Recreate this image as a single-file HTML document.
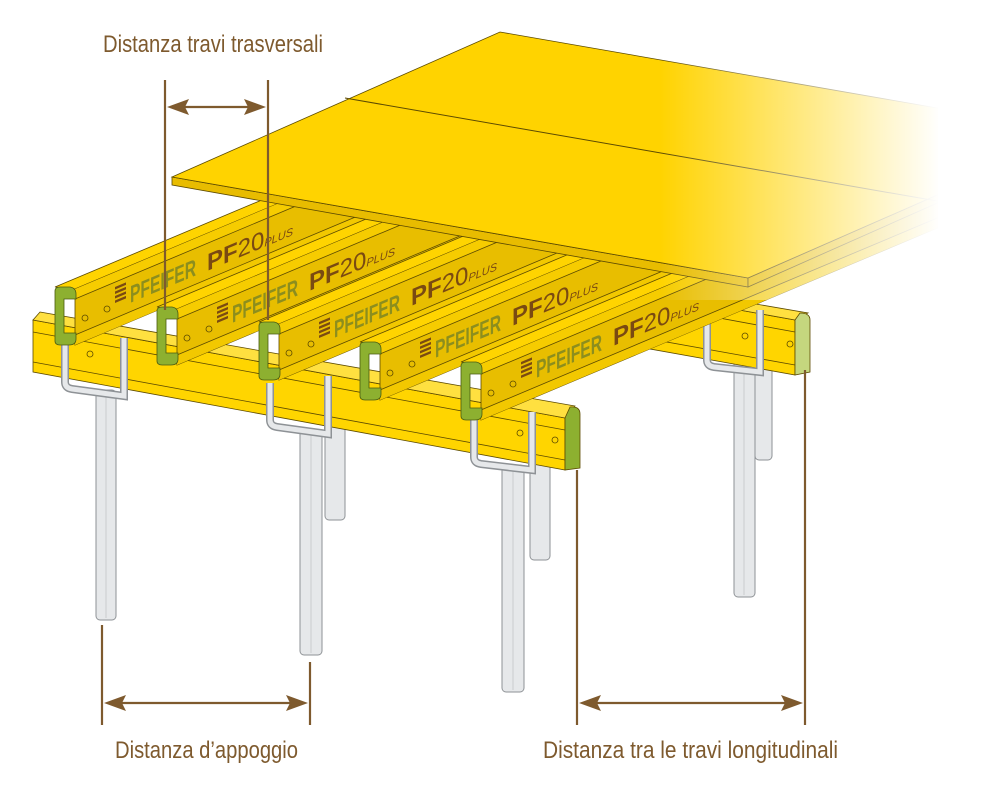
<!DOCTYPE html>
<html><head><meta charset="utf-8"><style>
html,body{margin:0;padding:0;background:#fff;}
svg{display:block;}
.dim{stroke:#7E5A2E;stroke-width:2.2;fill:none;}
.lbl{font-family:"Liberation Sans Narrow","Liberation Sans",sans-serif;fill:#7E5A2E;font-size:24px;}
.pf{font-family:"Liberation Sans Narrow","Liberation Sans",sans-serif;font-weight:bold;font-size:24px;fill:#8C8E1E;}
.pf2{font-family:"Liberation Sans Narrow","Liberation Sans",sans-serif;font-size:24px;fill:#7A4A12;}
.prop{fill:#E6E8EA;stroke:#8E9296;stroke-width:1;}
.ol{stroke:#5C4A00;stroke-width:0.8;}
</style></head><body>
<svg width="1000" height="800" viewBox="0 0 1000 800" xmlns="http://www.w3.org/2000/svg">
<defs>
<linearGradient id="fade" x1="0" x2="1" y1="0" y2="0">
<stop offset="0" stop-color="#fff" stop-opacity="0"/>
<stop offset="1" stop-color="#fff" stop-opacity="1"/>
</linearGradient>
<g id="beamgeo">
<polygon class="ol" points="0,0 20,2 500,-200 480,-202" fill="#FFD400"/>
<polygon class="ol" points="20,2 500,-200 500,-144 20,58" fill="#E8BE00"/>
<polygon points="20,2 500,-200 500,-190 20,12" fill="#F6CC00"/>
<polygon points="20,48 500,-154 500,-144 20,58" fill="#F2C800"/>
<line x1="20" y1="12" x2="500" y2="-190" class="ol"/><line x1="20" y1="48" x2="500" y2="-154" class="ol"/>
<circle cx="30" cy="31" r="3" fill="none" class="ol"/><circle cx="52" cy="22" r="3" fill="none" class="ol"/>
<g transform="matrix(1,-0.42,0,1,60,16)" fill="#7A4A12"><rect x="0" y="-16" width="11" height="2.5"/><rect x="0" y="-11.5" width="11" height="2.5"/><rect x="0" y="-7" width="11" height="2.5"/><rect x="0" y="-2.5" width="11" height="2.5"/></g>
</g>
<g id="beamcap">
<path d="M0,4 Q0,0 5,0 H15 Q21,1 21,7 V12 H9 V46 H21 V52 Q21,58 14,58 H5 Q0,58 0,54 Z" fill="#8DB030" stroke="#4A5A10" stroke-width="0.8"/>
</g>
</defs>

<!-- props -->
<rect class="prop" x="325" y="420" width="20" height="100" rx="4"/>
<rect class="prop" x="530" y="450" width="20" height="110" rx="4"/>
<rect class="prop" x="755" y="360" width="17" height="100" rx="4"/>
<rect class="prop" x="734" y="360" width="21" height="237" rx="4"/>
<rect class="prop" x="96" y="390" width="20" height="230" rx="4"/>
<rect class="prop" x="300" y="430" width="22" height="225" rx="4"/>
<rect class="prop" x="502" y="465" width="22" height="227" rx="4"/>
<line x1="106" y1="395" x2="106" y2="618" stroke="#C9CCCF"/>
<line x1="311" y1="435" x2="311" y2="653" stroke="#C9CCCF"/>
<line x1="513" y1="470" x2="513" y2="690" stroke="#C9CCCF"/>
<line x1="744" y1="365" x2="744" y2="595" stroke="#C9CCCF"/>

<!-- back long beam -->
<polygon class="ol" points="600,285 795,320 795,375 600,340" fill="#FFD500"/>
<polygon class="ol" points="605,278 808,313 795,320 600,285" fill="#FFE040"/>
<line x1="600" y1="296" x2="795" y2="332" class="ol"/>
<line x1="600" y1="330" x2="795" y2="365" class="ol"/>
<path d="M795,320 L800,313 Q810,313 810,320 V372 L795,375 Z" fill="#C5D77E" stroke="#5C4A00" stroke-width="0.8"/>
<circle cx="745" cy="336" r="3" fill="none" class="ol"/>
<circle cx="790" cy="344" r="3" fill="none" class="ol"/>
<path d="M707,312 V360 Q707,366 714,367 L760,372 V310" fill="none" stroke="#8E9296" stroke-width="8"/>
<path d="M707,312 V360 Q707,366 714,367 L760,372 V310" fill="none" stroke="#E6E8EA" stroke-width="5"/>

<!-- front long beam -->
<polygon class="ol" points="33,320 565,418 565,470 33,372" fill="#FFD500"/>
<polygon class="ol" points="40,312 575,406 565,418 33,320" fill="#FFE040"/>
<line x1="33" y1="332" x2="565" y2="430" class="ol"/>
<line x1="33" y1="362" x2="565" y2="460" class="ol"/>
<path d="M565,418 L570,407 Q580,406 580,414 V468 L565,470 Z" fill="#8DB030" stroke="#5C4A00" stroke-width="0.8"/>
<circle cx="90" cy="354" r="3" fill="none" class="ol"/>
<circle cx="520" cy="433" r="3" fill="none" class="ol"/>
<circle cx="555" cy="440" r="3" fill="none" class="ol"/>

<g fill="none">
<path d="M65,345 V382 Q65,388 72,389 L124,396 V338" stroke="#8E9296" stroke-width="8"/>
<path d="M65,345 V382 Q65,388 72,389 L124,396 V338" stroke="#E6E8EA" stroke-width="5"/>
<path d="M270,383 V420 Q270,426 277,427 L328,434 V376" stroke="#8E9296" stroke-width="8"/>
<path d="M270,383 V420 Q270,426 277,427 L328,434 V376" stroke="#E6E8EA" stroke-width="5"/>
<path d="M474,420 V457 Q474,463 481,464 L532,470 V412" stroke="#8E9296" stroke-width="8"/>
<path d="M474,420 V457 Q474,463 481,464 L532,470 V412" stroke="#E6E8EA" stroke-width="5"/>
</g>

<!-- transverse beams -->
<g transform="translate(55,287)"><use href="#beamgeo"/>
<text class="pf" transform="matrix(1,-0.42,0,1,75,16)" textLength="66" lengthAdjust="spacingAndGlyphs">PFEIFER</text>
<text class="pf2" transform="matrix(1,-0.42,0,1,152,-16)"><tspan font-weight="bold">PF</tspan>20<tspan font-size="11" font-style="italic">PLUS</tspan></text>
<use href="#beamcap"/></g>
<g transform="translate(157,307)"><use href="#beamgeo"/>
<text class="pf" transform="matrix(1,-0.42,0,1,75,16)" textLength="66" lengthAdjust="spacingAndGlyphs">PFEIFER</text>
<text class="pf2" transform="matrix(1,-0.42,0,1,152,-16)"><tspan font-weight="bold">PF</tspan>20<tspan font-size="11" font-style="italic">PLUS</tspan></text>
<use href="#beamcap"/></g>
<g transform="translate(259,322)"><use href="#beamgeo"/>
<text class="pf" transform="matrix(1,-0.42,0,1,75,16)" textLength="66" lengthAdjust="spacingAndGlyphs">PFEIFER</text>
<text class="pf2" transform="matrix(1,-0.42,0,1,152,-16)"><tspan font-weight="bold">PF</tspan>20<tspan font-size="11" font-style="italic">PLUS</tspan></text>
<use href="#beamcap"/></g>
<g transform="translate(360,342)"><use href="#beamgeo"/>
<text class="pf" transform="matrix(1,-0.42,0,1,75,16)" textLength="66" lengthAdjust="spacingAndGlyphs">PFEIFER</text>
<text class="pf2" transform="matrix(1,-0.42,0,1,152,-16)"><tspan font-weight="bold">PF</tspan>20<tspan font-size="11" font-style="italic">PLUS</tspan></text>
<use href="#beamcap"/></g>
<g transform="translate(461,362)"><use href="#beamgeo"/>
<text class="pf" transform="matrix(1,-0.42,0,1,75,16)" textLength="66" lengthAdjust="spacingAndGlyphs">PFEIFER</text>
<text class="pf2" transform="matrix(1,-0.42,0,1,152,-16)"><tspan font-weight="bold">PF</tspan>20<tspan font-size="11" font-style="italic">PLUS</tspan></text>
<use href="#beamcap"/></g>

<!-- panel -->
<polygon points="172,177 748,278 748,287 172,185" fill="#E8BC00" class="ol"/>
<polygon points="748,278 960,185 960,193 748,287" fill="#E8BC00" class="ol"/>
<polygon points="172,177 500,32 960,112 960,185 748,278" fill="#FFD300" class="ol"/>
<line x1="345" y1="98" x2="960" y2="205" stroke="#5C4A00" stroke-width="1"/>

<!-- fade -->
<rect x="660" y="0" width="280" height="300" fill="url(#fade)"/>
<rect x="938" y="0" width="62" height="300" fill="#fff"/>

<!-- dimensions -->
<g class="dim">
<line x1="165" y1="80" x2="165" y2="310"/>
<line x1="268" y1="80" x2="268" y2="320"/>
<line x1="172" y1="107" x2="261" y2="107"/>
<line x1="102" y1="625" x2="102" y2="725"/>
<line x1="310" y1="662" x2="310" y2="725"/>
<line x1="109" y1="703" x2="303" y2="703"/>
<line x1="577" y1="470" x2="577" y2="725"/>
<line x1="805" y1="370" x2="805" y2="725"/>
<line x1="584" y1="703" x2="798" y2="703"/>
</g>
<g fill="#7E5A2E">
<polygon points="167,107 189,99 185,107 189,115"/>
<polygon points="266,107 244,99 248,107 244,115"/>
<polygon points="104,703 126,695 122,703 126,711"/>
<polygon points="308,703 286,695 290,703 286,711"/>
<polygon points="579,703 601,695 597,703 601,711"/>
<polygon points="803,703 781,695 785,703 781,711"/>
</g>
<text class="lbl" x="103" y="52" textLength="220" lengthAdjust="spacingAndGlyphs">Distanza travi trasversali</text>
<text class="lbl" x="115" y="758" textLength="183" lengthAdjust="spacingAndGlyphs">Distanza d’appoggio</text>
<text class="lbl" x="543" y="758" textLength="295" lengthAdjust="spacingAndGlyphs">Distanza tra le travi longitudinali</text>
</svg>
</body></html>
